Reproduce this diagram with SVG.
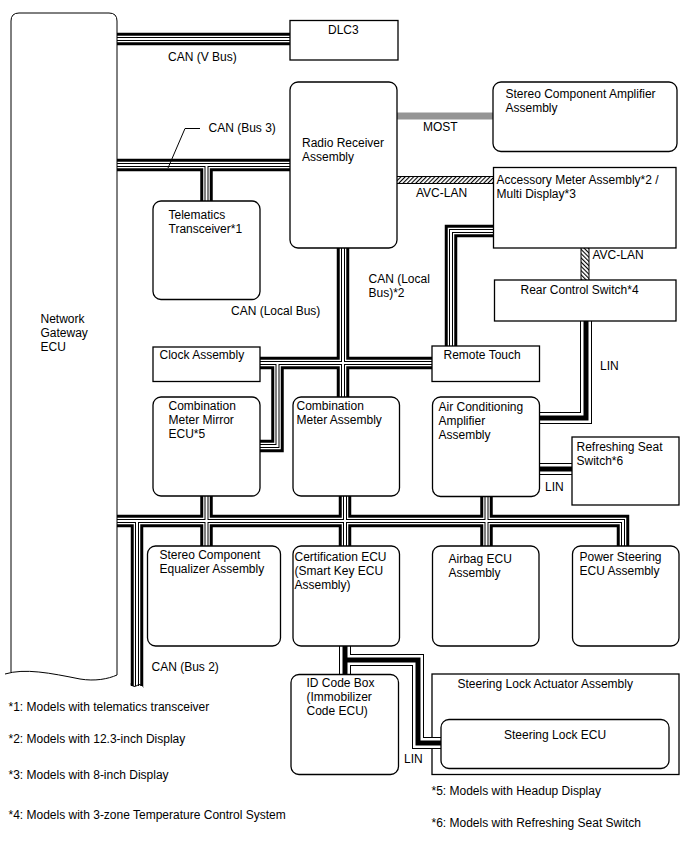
<svg xmlns="http://www.w3.org/2000/svg" width="688" height="852" viewBox="0 0 688 852">
<defs>
<style>
text { font-family: "Liberation Sans", Arial, sans-serif; font-size: 12px; fill: #000; }
.box { fill: #fff; stroke: #000; stroke-width: 1.3; }
.c1 { fill: none; stroke: #000; stroke-width: 12.5; stroke-linejoin: miter; }
.c2 { fill: none; stroke: #fff; stroke-width: 6.5; stroke-linejoin: miter; }
.c3 { fill: none; stroke: #000; stroke-width: 4; stroke-linejoin: miter; }
.c4 { fill: none; stroke: #fff; stroke-width: 2; stroke-linejoin: miter; }
.l1 { fill: none; stroke: #000; stroke-width: 12; stroke-linejoin: miter; }
.l2 { fill: none; stroke: #fff; stroke-width: 10; stroke-linejoin: miter; }
.l3 { fill: none; stroke: #000; stroke-width: 5; stroke-linejoin: miter; }
.thin { fill: none; stroke: #000; stroke-width: 1; }
</style>
<pattern id="hatchF" patternUnits="userSpaceOnUse" width="3" height="3" patternTransform="rotate(45)"><rect width="3" height="3" fill="#fff"/><rect width="1.1" height="3" fill="#000"/></pattern>
<pattern id="hatchB" patternUnits="userSpaceOnUse" width="3" height="3" patternTransform="rotate(-45)"><rect width="3" height="3" fill="#fff"/><rect width="1.1" height="3" fill="#000"/></pattern>
<path id="can" d="M115,39 H292 M115,165 H292 M206.5,165 V203 M343,246 V399 M258,363 H434 M277.5,363 V446 H258 M451,348 V231 H495 M115,521 H623 V548 M137,521 V686 M206.5,494 V548 M345,494 V548 M486.5,494 V548"/>
<path id="lin" d="M586,319 V418 H537 M537,469 H574 M345,644 V676 M345,660 H418 V743 H443"/>
</defs>

<g id="steering-lock-actuator-assembly">
<rect class="box" x="432" y="674" width="247" height="100.5"/>
<text x="457.5" y="687.5">Steering Lock Actuator Assembly</text>
</g>

<g id="connectors">
<use href="#can" class="c1"/>
<use href="#can" class="c2"/>
<use href="#can" class="c3"/>
<use href="#can" class="c4"/>
<use href="#lin" class="l1"/>
<use href="#lin" class="l2"/>
<use href="#lin" class="l3"/>
<rect x="396" y="112.5" width="98" height="7" fill="#959595"/>
<rect x="396" y="176.5" width="98" height="7" fill="url(#hatchF)" stroke="#000" stroke-width="1"/>
<rect x="581" y="247" width="8" height="34" fill="url(#hatchB)" stroke="#000" stroke-width="1"/>
<path class="thin" d="M130.5,684 Q134,688 137,685.5 Q140,683 143.5,687"/>
<polyline class="thin" points="200,128.5 185,128.5 168,168"/>
<text x="168" y="61">CAN (V Bus)</text>
<text x="208.5" y="131.5">CAN (Bus 3)</text>
<text x="423" y="131">MOST</text>
<text x="416" y="197">AVC-LAN</text>
<text x="592.5" y="258.5">AVC-LAN</text>
<text x="231" y="314.5">CAN (Local Bus)</text>
<text x="368.5" y="283">CAN (Local</text>
<text x="368.5" y="297">Bus)*2</text>
<text x="600" y="370">LIN</text>
<text x="545" y="491">LIN</text>
<text x="151.5" y="670.5">CAN (Bus 2)</text>
<text x="404" y="762.5">LIN</text>
</g>

<g id="network-gateway-ecu">
<path d="M11,672 V21 Q11,13 19,13 H109 Q117,13 117,21 V675 C108,679 95,681.5 80,679 C50,673 30,668 11,672 Z" fill="#fff"/>
<path class="thin" stroke-width="1.3" d="M5,674 C25,668 50,673 80,679 C95,681.5 108,679 117,675 V21 Q117,13 109,13 H19 Q11,13 11,21 V672"/>
<text x="40.5" y="322.5">Network</text>
<text x="40.5" y="336.5">Gateway</text>
<text x="40.5" y="350.5">ECU</text>
</g>

<g id="dlc3">
<rect class="box" x="290" y="20.5" width="108" height="39.5"/>
<text x="328" y="33.5">DLC3</text>
</g>

<g id="radio-receiver-assembly">
<rect class="box" x="290" y="82" width="107" height="166" rx="8"/>
<text x="302" y="146.5">Radio Receiver</text>
<text x="302" y="160.5">Assembly</text>
</g>

<g id="stereo-component-amplifier-assembly">
<rect class="box" x="493" y="82" width="184" height="69.5" rx="8"/>
<text x="505.5" y="98">Stereo Component Amplifier</text>
<text x="505.5" y="112">Assembly</text>
</g>

<g id="accessory-meter-assembly">
<rect class="box" x="493.5" y="167.5" width="182.5" height="80.5"/>
<text x="496.5" y="183.5">Accessory Meter Assembly*2 /</text>
<text x="496.5" y="197.5">Multi Display*3</text>
</g>

<g id="rear-control-switch">
<rect class="box" x="494.5" y="280" width="181.5" height="41"/>
<text x="520.5" y="294">Rear Control Switch*4</text>
</g>

<g id="telematics-transceiver">
<rect class="box" x="153" y="201" width="107" height="98.5" rx="8"/>
<text x="168.5" y="218.5">Telematics</text>
<text x="168.5" y="232.5">Transceiver*1</text>
</g>

<g id="clock-assembly">
<rect class="box" x="153" y="347" width="107" height="34.5"/>
<text x="159.5" y="358.5">Clock Assembly</text>
</g>

<g id="remote-touch">
<rect class="box" x="432" y="346" width="107.5" height="35.5"/>
<text x="443.5" y="358.5">Remote Touch</text>
</g>

<g id="combination-meter-mirror-ecu">
<rect class="box" x="153" y="397" width="107" height="99" rx="8"/>
<text x="168.5" y="410">Combination</text>
<text x="168.5" y="424">Meter Mirror</text>
<text x="168.5" y="437.5">ECU*5</text>
</g>

<g id="combination-meter-assembly">
<rect class="box" x="293" y="397" width="106.5" height="99" rx="8"/>
<text x="296.5" y="410">Combination</text>
<text x="296.5" y="424">Meter Assembly</text>
</g>

<g id="air-conditioning-amplifier-assembly">
<rect class="box" x="432.5" y="397" width="107" height="99.5" rx="8"/>
<text x="438.5" y="410.5">Air Conditioning</text>
<text x="438.5" y="424.5">Amplifier</text>
<text x="438.5" y="438.5">Assembly</text>
</g>

<g id="refreshing-seat-switch">
<rect class="box" x="572" y="437" width="107" height="68"/>
<text x="576.5" y="450.5">Refreshing Seat</text>
<text x="576.5" y="464.5">Switch*6</text>
</g>

<g id="stereo-component-equalizer-assembly">
<rect class="box" x="147.5" y="546" width="133" height="100" rx="8"/>
<text x="159.5" y="558.5">Stereo Component</text>
<text x="159.5" y="572.5">Equalizer Assembly</text>
</g>

<g id="certification-ecu">
<rect class="box" x="293" y="546" width="106.5" height="100" rx="8"/>
<text x="294.5" y="560.5">Certification ECU</text>
<text x="294.5" y="574.5">(Smart Key ECU</text>
<text x="294.5" y="588.5">Assembly)</text>
</g>

<g id="airbag-ecu-assembly">
<rect class="box" x="432.5" y="546" width="106.5" height="100" rx="8"/>
<text x="448.5" y="563">Airbag ECU</text>
<text x="448.5" y="577">Assembly</text>
</g>

<g id="power-steering-ecu-assembly">
<rect class="box" x="572.5" y="546" width="106.5" height="100" rx="8"/>
<text x="579.5" y="561">Power Steering</text>
<text x="579.5" y="575">ECU Assembly</text>
</g>

<g id="id-code-box">
<rect class="box" x="291" y="674.5" width="107.5" height="100" rx="8"/>
<text x="306.5" y="686.5">ID Code Box</text>
<text x="306.5" y="700.5">(Immobilizer</text>
<text x="306.5" y="714.5">Code ECU)</text>
</g>

<g id="steering-lock-ecu">
<rect class="box" x="441" y="719.5" width="228" height="49" rx="8"/>
<text x="504" y="739">Steering Lock ECU</text>
</g>

<g id="footnotes">
<text x="8.5" y="710.5">*1: Models with telematics transceiver</text>
<text x="8.5" y="742.5">*2: Models with 12.3-inch Display</text>
<text x="8.5" y="778.5">*3: Models with 8-inch Display</text>
<text x="8.5" y="818.5">*4: Models with 3-zone Temperature Control System</text>
<text x="431.5" y="795">*5: Models with Headup Display</text>
<text x="431.5" y="826.5">*6: Models with Refreshing Seat Switch</text>
</g>
</svg>
